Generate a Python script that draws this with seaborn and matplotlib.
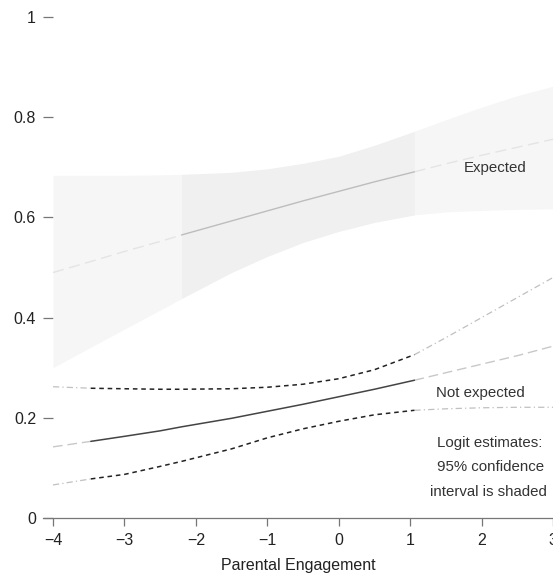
import numpy as np
import pandas as pd
import matplotlib
matplotlib.use("Agg")
import matplotlib.pyplot as plt
import seaborn as sns

# Parental engagement grid (observed range split points included)
engagement = [-4, -3.47, -3, -2.5, -2.2, -1.5, -1, -0.5, 0, 0.5, 1.06, 1.5, 2, 2.5, 3]

# "Expected" group: predicted probability and 95% CI
expected_fit = [0.490, 0.512, 0.532, 0.552, 0.565, 0.593, 0.613, 0.633, 0.652,
                0.671, 0.691, 0.707, 0.724, 0.740, 0.756]
expected_hi = [0.684, 0.684, 0.684, 0.685, 0.686, 0.690, 0.697, 0.708, 0.722,
               0.744, 0.772, 0.795, 0.820, 0.843, 0.862]
expected_lo = [0.300, 0.341, 0.377, 0.415, 0.438, 0.490, 0.522, 0.550, 0.572,
               0.590, 0.605, 0.611, 0.614, 0.616, 0.617]
expected_range = (-2.2, 1.06)

# "Not expected" group
notexp_fit = [0.142, 0.153, 0.163, 0.174, 0.182, 0.199, 0.213, 0.227, 0.242,
              0.257, 0.275, 0.290, 0.307, 0.324, 0.343]
notexp_hi = [0.262, 0.259, 0.258, 0.257, 0.257, 0.258, 0.261, 0.267, 0.278,
             0.296, 0.326, 0.360, 0.400, 0.440, 0.480]
notexp_lo = [0.066, 0.078, 0.087, 0.103, 0.113, 0.138, 0.160, 0.178, 0.193,
             0.206, 0.215, 0.218, 0.220, 0.221, 0.221]
notexp_range = (-3.47, 1.06)

x_ticks = [-4, -3, -2, -1, 0, 1, 2, 3]
y_ticks = [0, 0.2, 0.4, 0.6, 0.8, 1]
y_tick_labels = ["0", "0.2", "0.4", "0.6", "0.8", "1"]

df = pd.DataFrame({
    "x": engagement,
    "exp_fit": expected_fit, "exp_hi": expected_hi, "exp_lo": expected_lo,
    "ne_fit": notexp_fit, "ne_hi": notexp_hi, "ne_lo": notexp_lo,
})

sns.set_theme(style="white")
plt.rcParams["font.family"] = ["Liberation Sans", "DejaVu Sans"]
plt.rcParams["axes.unicode_minus"] = True

fig = plt.figure(figsize=(5.53, 5.77), dpi=100)
ax = fig.add_axes([43 / 553, 59 / 577, 510 / 553, 518 / 577])


def split(frame, lo, hi):
    left = frame[frame.x <= lo]
    mid = frame[(frame.x >= lo) & (frame.x <= hi)]
    right = frame[frame.x >= hi]
    return left, mid, right


# Expected: shaded CI band, darker inside the observed range
e_left, e_mid, e_right = split(df, *expected_range)
for part, shade in [(e_left, "#f6f6f6"), (e_mid, "#f0f0f0"), (e_right, "#f6f6f6")]:
    ax.fill_between(part.x, part.exp_lo, part.exp_hi, color=shade, lw=0)
for part in (e_left, e_right):
    sns.lineplot(x=part.x, y=part.exp_fit, ax=ax, color="#e4e4e4", lw=1,
                 linestyle=(0, (8, 4)))
sns.lineplot(x=e_mid.x, y=e_mid.exp_fit, ax=ax, color="#bdbdbd", lw=1.0)

# Not expected: fit line with dashed CI bounds
n_left, n_mid, n_right = split(df, *notexp_range)
for part in (n_left, n_right):
    sns.lineplot(x=part.x, y=part.ne_fit, ax=ax, color="#c8c8c8", lw=1,
                 linestyle=(0, (7, 3.5)))
    for col in ("ne_hi", "ne_lo"):
        sns.lineplot(x=part.x, y=part[col], ax=ax, color="#c0c0c0", lw=0.9,
                     linestyle=(0, (5, 2.5, 1, 2.5)))
sns.lineplot(x=n_mid.x, y=n_mid.ne_fit, ax=ax, color="#444444", lw=1.1)
for col in ("ne_hi", "ne_lo"):
    sns.lineplot(x=n_mid.x, y=n_mid[col], ax=ax, color="#222222", lw=1.1,
                 linestyle=(0, (3, 2.5)))

# Labels
txt = dict(ha="center", va="center", color="#333333", fontsize=10.8)
ax.text(2.19, 0.699, "Expected", **txt)
ax.text(1.98, 0.249, "Not expected", **txt)
ax.text(2.12, 0.150, "Logit estimates:", **txt)
ax.text(2.12, 0.101, "95% confidence", **txt)
ax.text(2.09, 0.052, "interval is shaded", **txt)

ax.set_xlim(-4.14, 3.0)
ax.set_ylim(0, 1.034)
ax.set_xticks(x_ticks)
ax.set_yticks(y_ticks)
ax.set_yticklabels(y_tick_labels)
ax.set_xlabel("Parental Engagement", fontsize=11.5, color="#222222", labelpad=7)
ax.set_ylabel("")

for side in ("top", "right", "left"):
    ax.spines[side].set_visible(False)
ax.spines["bottom"].set_color("#777777")
ax.spines["bottom"].set_linewidth(0.9)
ax.tick_params(axis="y", direction="in", length=7, width=0.9, color="#777777",
               pad=5, labelsize=11.5, labelcolor="#222222", left=True)
ax.tick_params(axis="x", direction="out", length=6, width=0.9, color="#777777",
               pad=5, labelsize=11.5, labelcolor="#222222", bottom=True)

fig.savefig("out.png", dpi=100)
